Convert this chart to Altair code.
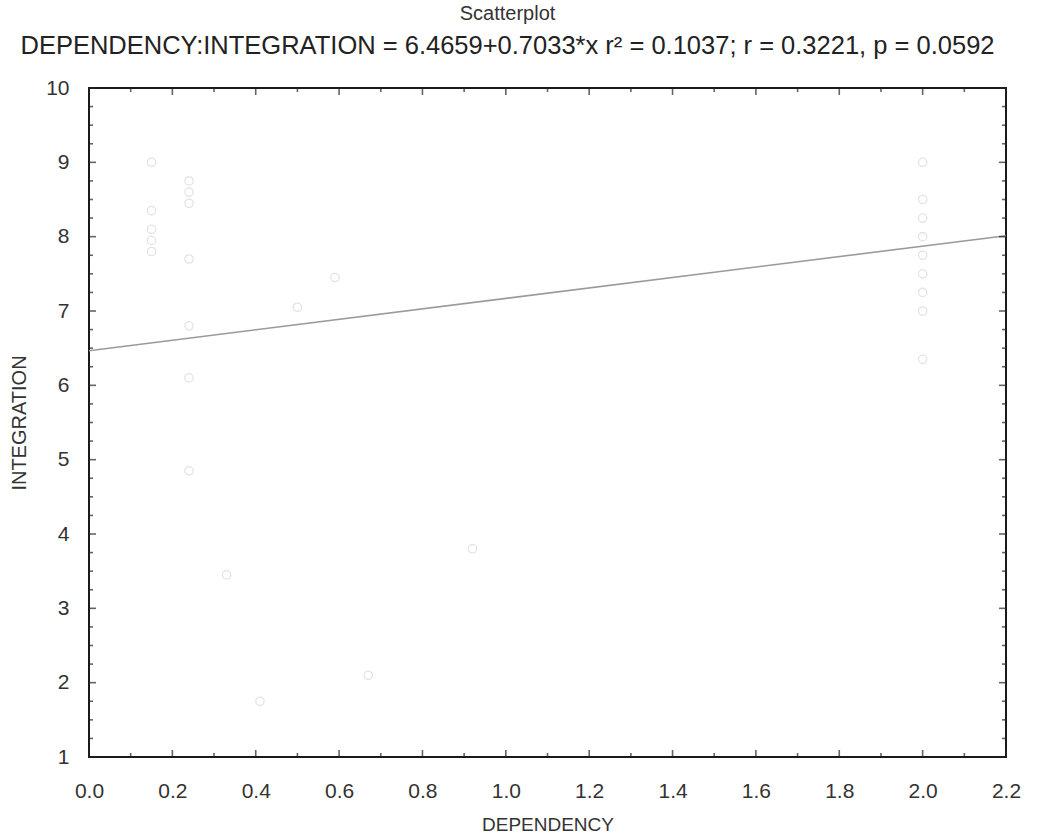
import altair as alt
import pandas as pd

# ---- data ----
dependency = [0.15, 0.15, 0.15, 0.15, 0.15,
              0.24, 0.24, 0.24, 0.24, 0.24, 0.24, 0.24,
              0.33, 0.41, 0.50, 0.59, 0.67, 0.92,
              2.0, 2.0, 2.0, 2.0, 2.0, 2.0, 2.0, 2.0, 2.0]
integration = [9.0, 8.35, 8.1, 7.95, 7.8,
               8.75, 8.6, 8.45, 7.7, 6.8, 6.1, 4.85,
               3.45, 1.75, 7.05, 7.45, 2.1, 3.8,
               9.0, 8.5, 8.25, 8.0, 7.75, 7.5, 7.25, 7.0, 6.35]

# fitted line endpoints (from INTEGRATION = 6.4659 + 0.7033*x)
fit_x = [0.0, 2.2]
fit_y = [6.4659, 8.0132]

x_major = [0.0, 0.2, 0.4, 0.6, 0.8, 1.0, 1.2, 1.4, 1.6, 1.8, 2.0, 2.2]
x_minor = [0.1, 0.3, 0.5, 0.7, 0.9, 1.1, 1.3, 1.5, 1.7, 1.9, 2.1]
y_major = [1, 2, 3, 4, 5, 6, 7, 8, 9, 10]
y_minor = [1.25, 1.5, 1.75, 2.25, 2.5, 2.75, 3.25, 3.5, 3.75, 4.25, 4.5, 4.75,
           5.25, 5.5, 5.75, 6.25, 6.5, 6.75, 7.25, 7.5, 7.75, 8.25, 8.5, 8.75,
           9.25, 9.5, 9.75]

title_text = "Scatterplot"
subtitle_text = "DEPENDENCY:INTEGRATION = 6.4659+0.7033*x r\u00b2 = 0.1037; r = 0.3221, p = 0.0592"

W, H = 917, 669
FONT = "Liberation Sans"
TXT = "#333333"

pts = pd.DataFrame({"DEPENDENCY": dependency, "INTEGRATION": integration})
fit = pd.DataFrame({"DEPENDENCY": fit_x, "INTEGRATION": fit_y})

xs = alt.Scale(domain=[0, 2.2], nice=False, zero=False)
ys = alt.Scale(domain=[1, 10], nice=False, zero=False)

xaxis = alt.Axis(values=x_major, format=".1f", ticks=False, domain=False, grid=False,
                 labelFontSize=21, labelColor=TXT, labelFont=FONT, labelPadding=23,
                 labelFlush=False, labelOverlap=False,
                 title="DEPENDENCY", titleFontSize=19, titleFontWeight="normal",
                 titleColor=TXT, titleFont=FONT, titlePadding=14)
yaxis = alt.Axis(values=y_major, format="d", ticks=False, domain=False, grid=False,
                 labelFontSize=21, labelColor=TXT, labelFont=FONT, labelPadding=20,
                 labelFlush=False, labelOverlap=False,
                 title="INTEGRATION", titleFontSize=20, titleFontWeight="normal",
                 titleColor=TXT, titleFont=FONT, titlePadding=16)

points = alt.Chart(pts).mark_point(shape="circle", filled=False, color="#d9d9d9",
                                   size=70, strokeWidth=1.3).encode(
    x=alt.X("DEPENDENCY:Q", scale=xs, axis=xaxis, title="DEPENDENCY"),
    y=alt.Y("INTEGRATION:Q", scale=ys, axis=yaxis, title="INTEGRATION"),
)

line = alt.Chart(fit).mark_line(color="#9a9a9a", strokeWidth=1.6).encode(
    x=alt.X("DEPENDENCY:Q", scale=xs),
    y=alt.Y("INTEGRATION:Q", scale=ys),
)


def xticks(vals, size, top):
    df = pd.DataFrame({"DEPENDENCY": vals})
    off = size / 2 if top else -size / 2
    return alt.Chart(df).mark_tick(orient="vertical", size=size, thickness=1.6,
                                   color="#222222", yOffset=off).encode(
        x=alt.X("DEPENDENCY:Q", scale=xs),
        y=alt.value(0 if top else H),
    )


def yticks(vals, size, left):
    df = pd.DataFrame({"INTEGRATION": vals})
    off = size / 2 if left else -size / 2
    return alt.Chart(df).mark_tick(orient="horizontal", size=size, thickness=1.6,
                                   color="#222222", xOffset=off).encode(
        y=alt.Y("INTEGRATION:Q", scale=ys),
        x=alt.value(0 if left else W),
    )


layers = [points, line,
          xticks(x_major, 7, False), xticks(x_minor, 4, False),
          xticks(x_major, 7, True), xticks(x_minor, 4, True),
          yticks(y_major, 7, True), yticks(y_minor, 4, True),
          yticks(y_major, 7, False), yticks(y_minor, 4, False)]

chart = alt.layer(*layers).properties(
    width=W, height=H,
    title=alt.TitleParams(text=title_text, subtitle=subtitle_text,
                          font=FONT, fontSize=20, fontWeight="normal", color=TXT,
                          subtitleFont=FONT, subtitleFontSize=25.5, subtitleColor="#222222",
                          anchor="middle", dx=-40, offset=18, subtitlePadding=10),
    autosize=alt.AutoSizeParams(type="none"),
    padding={"left": 89, "top": 88, "right": 33, "bottom": 83},
    background="white",
).configure_view(stroke="#1a1a1a", strokeWidth=2)

chart.save("out.html", embed_options={"renderer": "svg", "actions": False})
